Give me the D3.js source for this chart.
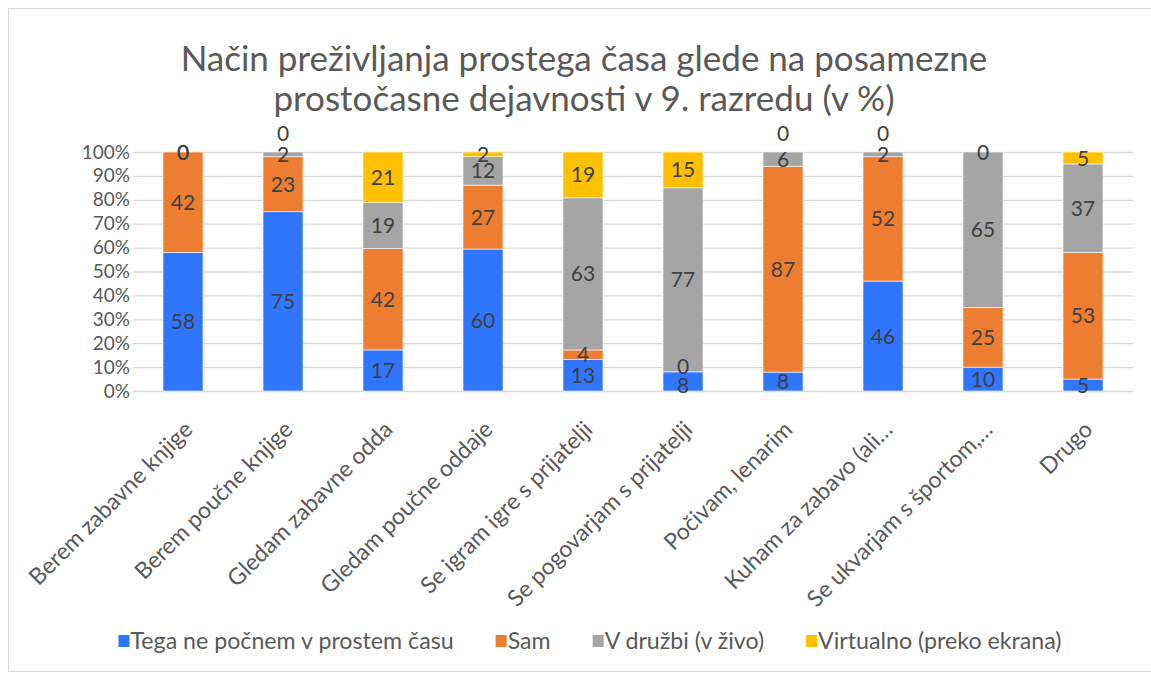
<!DOCTYPE html>
<html>
<head>
<meta charset="utf-8">
<script src="https://cdn.jsdelivr.net/npm/d3@7"></script>
<style>
  body { margin: 0; background: #fff; }
  svg { font-family: Lato, "Open Sans", sans-serif; }
</style>
</head>
<body>
<div id="chart"></div>
<script>
// categories and series (percent values as printed on the bars)
const categories = ["Berem zabavne knjige", "Berem poučne knjige", "Gledam zabavne odda",
  "Gledam poučne oddaje", "Se igram igre s prijatelji", "Se pogovarjam s prijatelji",
  "Počivam, lenarim", "Kuham za zabavo (ali…", "Se ukvarjam s športom,…", "Drugo"];
const seriesNames = ["Tega ne počnem v prostem času", "Sam", "V družbi (v živo)", "Virtualno (preko ekrana)"];
const tegaNe    = [58, 75, 17, 60, 13, 8, 8, 46, 10, 5];
const sam       = [42, 23, 42, 27, 4, 0, 87, 52, 25, 53];
const vDruzbi   = [0, 2, 19, 12, 63, 77, 6, 2, 65, 37];
const virtualno = [0, 0, 21, 2, 19, 15, 0, 0, 0, 5];
const yTicks = [0, 10, 20, 30, 40, 50, 60, 70, 80, 90, 100];
const colors = ["#2F75FE", "#ED7D31", "#A5A5A5", "#FFC000"];

const width = 1151, height = 675;
const margin = {top: 152, left: 133, right: 18, bottom: 284};
const seriesValues = [tegaNe, sam, vDruzbi, virtualno];

const svg = d3.select("#chart").append("svg")
  .attr("width", width)
  .attr("height", height);

// chart frame
svg.append("rect")
  .attr("x", 8.5).attr("y", 8.5)
  .attr("width", width + 20).attr("height", height - 12)
  .attr("fill", "none").attr("stroke", "#d9d9d9");

const x = d3.scaleBand()
  .domain(categories)
  .range([margin.left, width - margin.right])
  .paddingInner(0.6).paddingOuter(0.3);

const y = d3.scaleLinear()
  .domain([0, 100])
  .range([height - margin.bottom, margin.top]);

// title
svg.append("text")
  .attr("x", 584).attr("y", 71)
  .attr("text-anchor", "middle")
  .style("fill", "#595959")
  .style("font-size", "35px")
  .selectAll("tspan")
  .data(["Način preživljanja prostega časa glede na posamezne",
         "prostočasne dejavnosti v 9. razredu (v %)"])
  .enter().append("tspan")
  .attr("x", 584)
  .attr("dy", (d, i) => i ? 40 : 0)
  .text(d => d);

// gridlines + y axis
const yAxis = svg.append("g")
  .attr("transform", `translate(${margin.left},0)`)
  .call(d3.axisLeft(y).tickValues(yTicks).tickFormat(d => d + "%")
    .tickSize(-(width - margin.left - margin.right)).tickPadding(3));
yAxis.select(".domain").remove();
yAxis.selectAll("line").attr("stroke", "#d9d9d9").attr("stroke-width", 1.3);
yAxis.selectAll("text").style("fill", "#595959").style("font-size", "19px")
  .attr("font-family", "Lato, sans-serif");

// stacked rows, normalized to 100%
const rows = categories.map((c, i) => {
  const vals = seriesValues.map(s => s[i]);
  const total = d3.sum(vals);
  let acc = 0;
  return vals.map((v, k) => {
    const y0 = acc / total * 100;
    acc += v;
    return {cat: c, k: k, v: v, y0: y0, y1: acc / total * 100};
  });
});

const bars = svg.append("g");
rows.forEach(r => {
  bars.selectAll(null)
    .data(r.filter(d => d.v > 0))
    .enter().append("rect")
    .attr("x", d => x(d.cat))
    .attr("width", x.bandwidth())
    .attr("y", d => y(d.y1))
    .attr("height", d => y(d.y0) - y(d.y1))
    .attr("fill", d => colors[d.k])
    .attr("stroke", "#fff").attr("stroke-width", 0.6);
});

// data labels, with a small nudge when a zero label collides with the one below
const labels = [];
rows.forEach(r => {
  const pos = r.map(d => ({d: d, py: y((d.y0 + d.y1) / 2)}));
  pos.forEach((p, k) => {
    if (p.d.v !== 0) return;
    let j = k - 1;
    while (j >= 0 && pos[j].d.v === 0) j--;
    if (j < 0) return;
    const below = pos[j];
    if (below.py - p.py < 14) {
      if (p.d.y1 >= 99.99) {
        p.py = y(100) - 19;
      } else {
        const mid = (below.py + p.py) / 2;
        p.py = mid - 10;
        below.py = mid + 9;
      }
    }
  });
  pos.forEach(p => labels.push(p));
});

svg.append("g").selectAll("text")
  .data(labels)
  .enter().append("text")
  .attr("x", p => x(p.d.cat) + x.bandwidth() / 2)
  .attr("y", p => p.py)
  .attr("dy", "0.36em")
  .attr("text-anchor", "middle")
  .style("fill", "#404040")
  .style("font-size", "21px")
  .text(p => p.d.v);

// category labels
svg.append("g").selectAll("text")
  .data(categories)
  .enter().append("text")
  .attr("transform", d => `translate(${x(d) + x.bandwidth() / 2 + 11},431) rotate(-45)`)
  .attr("text-anchor", "end")
  .style("fill", "#595959")
  .style("font-size", "23px")
  .text(d => d);

// legend
const legend = svg.append("g");
const items = legend.selectAll("g")
  .data(seriesNames)
  .enter().append("g");
items.append("rect")
  .attr("y", 635).attr("width", 11).attr("height", 12)
  .attr("fill", (d, i) => colors[i]);
items.append("text")
  .attr("x", 12).attr("y", 641).attr("dy", "0.35em")
  .style("fill", "#595959")
  .style("font-size", "23.2px")
  .text(d => d);
let lx = 0;
const offs = [];
items.each(function () {
  offs.push(lx);
  lx += 12 + this.querySelector("text").getComputedTextLength() + 42;
});
lx -= 42;
const start = 590 - lx / 2;
items.attr("transform", (d, i) => `translate(${start + offs[i]},0)`);
</script>
</body>
</html>
